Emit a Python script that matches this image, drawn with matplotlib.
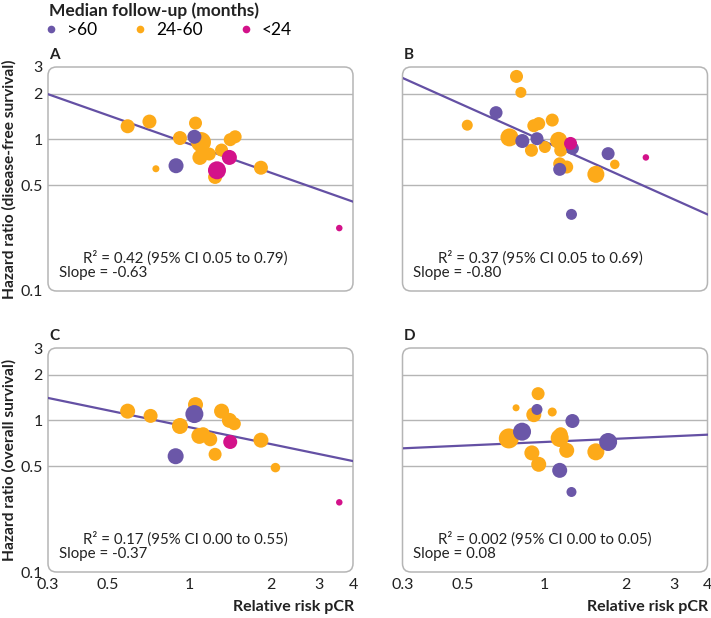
"""
Relative risk of pCR vs hazard ratio, four panels (meta-regression)
"""

import numpy as np
import matplotlib.pyplot as plt
from matplotlib.patches import FancyBboxPatch
from matplotlib.lines import Line2D

plt.rcParams["font.family"] = ["Lato", "DejaVu Sans"]

# follow-up groups: p = >60, o = 24-60, m = <24
group_names = {"p": ">60", "o": "24-60", "m": "<24"}
group_colors = {"p": "#6b57a8", "o": "#fdaa19", "m": "#d3128a"}

# panel A: disease-free survival, all trials
a_x = [0.59, 0.71, 0.75, 0.89, 0.92, 1.05, 1.10, 1.11, 1.09, 1.18, 1.31, 1.24, 1.41, 1.47, 1.83, 1.04, 1.26, 1.40, 3.56]
a_y = [1.22, 1.31, 0.64, 0.67, 1.02, 1.28, 0.96, 0.88, 0.76, 0.80, 0.85, 0.565, 0.995, 1.04, 0.65, 1.04, 0.625, 0.76, 0.26]
a_g = ["o", "o", "o", "p", "o", "o", "o", "o", "o", "o", "o", "o", "o", "o", "o", "p", "m", "m", "m"]
a_w = [14, 14, 7, 15, 14, 13, 20, 14, 15, 13, 13, 14, 13, 13, 14, 14, 18, 15, 6.5]

# panel B: disease-free survival, other trials
b_x = [0.79, 0.82, 0.52, 1.07, 0.915, 0.954, 0.744, 0.897, 1.005, 1.13, 1.15, 1.14, 1.21, 1.55, 1.82,
       0.664, 0.83, 0.94, 1.27, 1.14, 1.72, 1.26, 1.25, 2.37]
b_y = [2.60, 2.04, 1.24, 1.34, 1.23, 1.27, 1.03, 0.847, 0.89, 0.985, 0.847, 0.69, 0.657, 0.588, 0.684,
       1.50, 0.975, 1.01, 0.873, 0.634, 0.805, 0.32, 0.94, 0.76]
b_g = ["o"] * 15 + ["p"] * 7 + ["m", "m"]
b_w = [13, 11, 11, 13, 13, 13, 18, 13, 12, 17, 13, 13, 13, 17, 9.5,
       13, 14, 13, 13, 13, 13, 11, 13, 6.5]

# panel C: overall survival, all trials
c_x = [0.59, 0.717, 0.92, 1.05, 1.085, 1.19, 1.12, 1.24, 1.31, 1.40, 1.46, 1.83, 2.07, 0.887, 1.04, 1.41, 3.56]
c_y = [1.15, 1.07, 0.918, 1.27, 0.79, 0.75, 0.81, 0.597, 1.15, 1.00, 0.95, 0.74, 0.488, 0.58, 1.10, 0.72, 0.288]
c_g = ["o"] * 13 + ["p", "p", "m", "m"]
c_w = [15, 14, 16, 15, 16, 14, 14, 13, 15, 15, 13, 15, 9.5, 16, 18, 14, 6.5]

# panel D: overall survival, other trials
d_x = [0.949, 0.787, 1.07, 0.915, 0.74, 1.15, 1.14, 1.21, 0.90, 1.55, 0.954, 0.94, 1.27, 0.828, 1.72, 1.14, 1.26]
d_y = [1.50, 1.21, 1.135, 1.09, 0.76, 0.81, 0.765, 0.634, 0.61, 0.62, 0.513, 1.18, 0.99, 0.842, 0.72, 0.468, 0.337]
d_g = ["o"] * 11 + ["p"] * 6
d_w = [13, 7, 9, 15, 20, 14, 18, 15, 15, 17, 15, 11, 14, 18, 18, 15, 10]

# fitted meta-regression lines: value at x = 1 and log-log slope
fit_at_1 = [0.93, 0.97, 0.90, 0.72]
slopes = [-0.63, -0.80, -0.37, 0.08]
r2_text = ["R\u00b2 = 0.42 (95% CI 0.05 to 0.79)",
           "R\u00b2 = 0.37 (95% CI 0.05 to 0.69)",
           "R\u00b2 = 0.17 (95% CI 0.00 to 0.55)",
           "R\u00b2 = 0.002 (95% CI 0.00 to 0.05)"]
slope_text = ["Slope = -0.63", "Slope = -0.80", "Slope = -0.37", "Slope = 0.08"]
panel_letters = ["A", "B", "C", "D"]

x_ticks = [0.3, 0.5, 1, 2, 3, 4]
y_ticks = [0.1, 0.5, 1, 2, 3]
grid_y = [0.5, 1, 2]

W, H = 711, 618
fig = plt.figure(figsize=(W / 100, H / 100), dpi=100)

ax_w, ax_h = 305, 224
lefts = [48, 402.5]
tops = [67, 348]
txt = "#222222"

panels = [(a_x, a_y, a_g, a_w), (b_x, b_y, b_g, b_w), (c_x, c_y, c_g, c_w), (d_x, d_y, d_g, d_w)]

for i, (xs, ys, gs, ws) in enumerate(panels):
    row, col = divmod(i, 2)
    l, t = lefts[col], tops[row]
    ax = fig.add_axes([l / W, (H - t - ax_h) / H, ax_w / W, ax_h / H])
    ax.set_xscale("log")
    ax.set_yscale("log")
    ax.set_xlim(0.3, 4)
    ax.set_ylim(0.1, 3)
    for s in ax.spines.values():
        s.set_visible(False)

    box = FancyBboxPatch((0, 0), 1, 1, boxstyle="round,pad=0,rounding_size=0.028",
                         mutation_aspect=ax_w / ax_h, transform=ax.transAxes,
                         facecolor="none", edgecolor="#b5b5b5", linewidth=1.1,
                         clip_on=False, zorder=0)
    ax.add_patch(box)
    for gy in grid_y:
        ax.axhline(gy, color="#b5b5b5", linewidth=1.0, zorder=1)

    # regression line
    lx = np.array([0.3, 4])
    ly = fit_at_1[i] * lx ** slopes[i]
    ax.plot(lx, ly, color="#6450a4", linewidth=1.6, zorder=2)

    cols = [group_colors[g] for g in gs]
    sizes = [(w * 0.72) ** 2 for w in ws]
    ax.scatter(xs, ys, s=sizes, c=cols, linewidths=0, zorder=3)

    ax.set_xticks(x_ticks)
    ax.set_yticks(y_ticks)
    ax.xaxis.set_minor_locator(plt.FixedLocator([0.5, 1, 2, 3]))
    ax.xaxis.set_minor_formatter(plt.NullFormatter())
    ax.yaxis.set_minor_locator(plt.NullLocator())
    ax.tick_params(which="major", length=0, labelsize=11.5, colors=txt, pad=4)
    ax.tick_params(which="minor", axis="x", length=5, direction="in", color="#b5b5b5", width=1)
    ax.set_xticklabels([f"{v:g}" for v in x_ticks] if row == 1 else [])
    ax.set_yticklabels([f"{v:g}" for v in y_ticks] if col == 0 else [])

    ax.text(0.115, 0.148, r2_text[i], transform=ax.transAxes, fontsize=10.8,
            color=txt, va="center")
    ax.text(0.036, 0.08, slope_text[i], transform=ax.transAxes, fontsize=10.8,
            color=txt, va="center")
    fig.text((l + 1) / W, 1 - (t - 12) / H, panel_letters[i], fontsize=11,
             fontweight="bold", va="center", ha="left", color=txt)
    if row == 1:
        fig.text((l + ax_w + 1) / W, 1 - 607 / H, "Relative risk pCR", fontsize=11.5,
                 fontweight="bold", ha="right", va="center", color=txt)

fig.text(9 / W, 1 - 179 / H, "Hazard ratio (disease-free survival)", rotation=90,
         fontsize=11.2, fontweight="bold", ha="center", va="center", color=txt)
fig.text(9 / W, 1 - 460 / H, "Hazard ratio (overall survival)", rotation=90,
         fontsize=11.2, fontweight="bold", ha="center", va="center", color=txt)

# legend
fig.text(49 / W, 1 - 11 / H, "Median follow-up (months)", fontsize=12.5,
         fontweight="bold", va="center", color=txt)
handles = [Line2D([], [], marker="o", linestyle="", markersize=5.5,
                  markerfacecolor=group_colors[k], markeredgewidth=0, label=group_names[k])
           for k in ["p", "o", "m"]]
fig.legend(handles=handles, loc="center left", bbox_to_anchor=(46 / W, 1 - 30 / H),
           ncol=3, frameon=False, fontsize=12.5, handlelength=0.6, handletextpad=0.6,
           columnspacing=2.2, borderaxespad=0, borderpad=0)

fig.savefig("out.png", dpi=100)
